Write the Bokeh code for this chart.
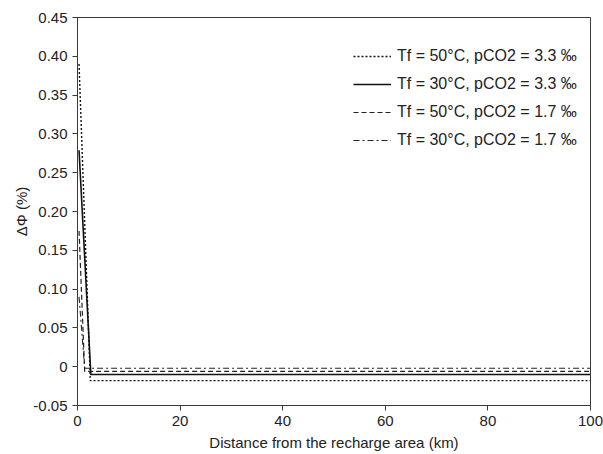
from bokeh.plotting import figure
from bokeh.models import Range1d, Legend, LegendItem, FixedTicker, CustomJSTickFormatter
from bokeh.embed import file_html
from bokeh.resources import INLINE

# Data (distance in km, delta phi in %)
dist_50_33 = [0.3, 2.5, 100]
dphi_50_33 = [0.39, -0.018, -0.018]
dist_30_33 = [0.3, 2.6, 100]
dphi_30_33 = [0.279, -0.010, -0.010]
dist_50_17 = [0.3, 1.4, 100]
dphi_50_17 = [0.175, -0.006, -0.006]
dist_30_17 = [0.3, 1.4, 100]
dphi_30_17 = [0.09, -0.002, -0.002]

labels = [
    "Tf = 50°C, pCO2 = 3.3 ‰",
    "Tf = 30°C, pCO2 = 3.3 ‰",
    "Tf = 50°C, pCO2 = 1.7 ‰",
    "Tf = 30°C, pCO2 = 1.7 ‰",
]
x_ticks = [0, 20, 40, 60, 80, 100]
y_ticks = [-0.05, 0, 0.05, 0.10, 0.15, 0.20, 0.25, 0.30, 0.35, 0.40, 0.45]

FONT = "Liberation Sans"
AX = "#3a3a3a"
TXT = "#222222"

p = figure(frame_width=513, frame_height=388,
           min_border_left=77, min_border_right=13, min_border_top=17, min_border_bottom=49,
           output_backend="svg", toolbar_location=None,
           x_range=Range1d(0, 100), y_range=Range1d(-0.05, 0.45))
p.outline_line_color = AX
p.outline_line_width = 1
p.xgrid.visible = False
p.ygrid.visible = False
p.background_fill_color = "white"
p.border_fill_color = "white"

r1 = p.line(dist_50_33, dphi_50_33, line_color="#111111", line_width=1.4, line_dash="2 2")
r2 = p.line(dist_30_33, dphi_30_33, line_color="#111111", line_width=1.6)
r3 = p.line(dist_50_17, dphi_50_17, line_color="#222222", line_width=1.2, line_dash="5 3")
r4 = p.line(dist_30_17, dphi_30_17, line_color="#222222", line_width=1.1, line_dash="6 3 2 3")

for ax in (p.xaxis[0], p.yaxis[0]):
    ax.axis_line_color = AX
    ax.major_tick_line_color = AX
    ax.minor_tick_line_color = None
    ax.major_tick_in = 0
    ax.major_tick_out = 5
    ax.major_label_text_font = FONT
    ax.major_label_text_font_size = "15px"
    ax.major_label_text_color = TXT
    ax.axis_label_text_font = FONT
    ax.axis_label_text_font_size = "15px"
    ax.axis_label_text_font_style = "normal"
    ax.axis_label_text_color = TXT

p.xaxis.ticker = FixedTicker(ticks=x_ticks)
p.yaxis.ticker = FixedTicker(ticks=y_ticks)
p.yaxis.formatter = CustomJSTickFormatter(code="return Math.abs(tick) < 1e-9 ? '0' : tick.toFixed(2);")
p.xaxis.axis_label = "Distance from the recharge area (km)"
p.yaxis.axis_label = "ΔΦ (%)"
p.xaxis.major_label_standoff = 5
p.xaxis.axis_label_standoff = 5
p.yaxis.major_label_standoff = 5
p.yaxis.axis_label_standoff = 0

legend = Legend(items=[LegendItem(label=labels[0], renderers=[r1]),
                       LegendItem(label=labels[1], renderers=[r2]),
                       LegendItem(label=labels[2], renderers=[r3]),
                       LegendItem(label=labels[3], renderers=[r4])],
                location=(271, 250), margin=0, padding=5, spacing=8,
                glyph_width=38, label_standoff=6,
                border_line_alpha=0, background_fill_alpha=0,
                label_text_font=FONT, label_text_font_size="16px",
                label_text_color=TXT)
p.add_layout(legend, "center")

open("out.html", "w").write(file_html(p, INLINE))
